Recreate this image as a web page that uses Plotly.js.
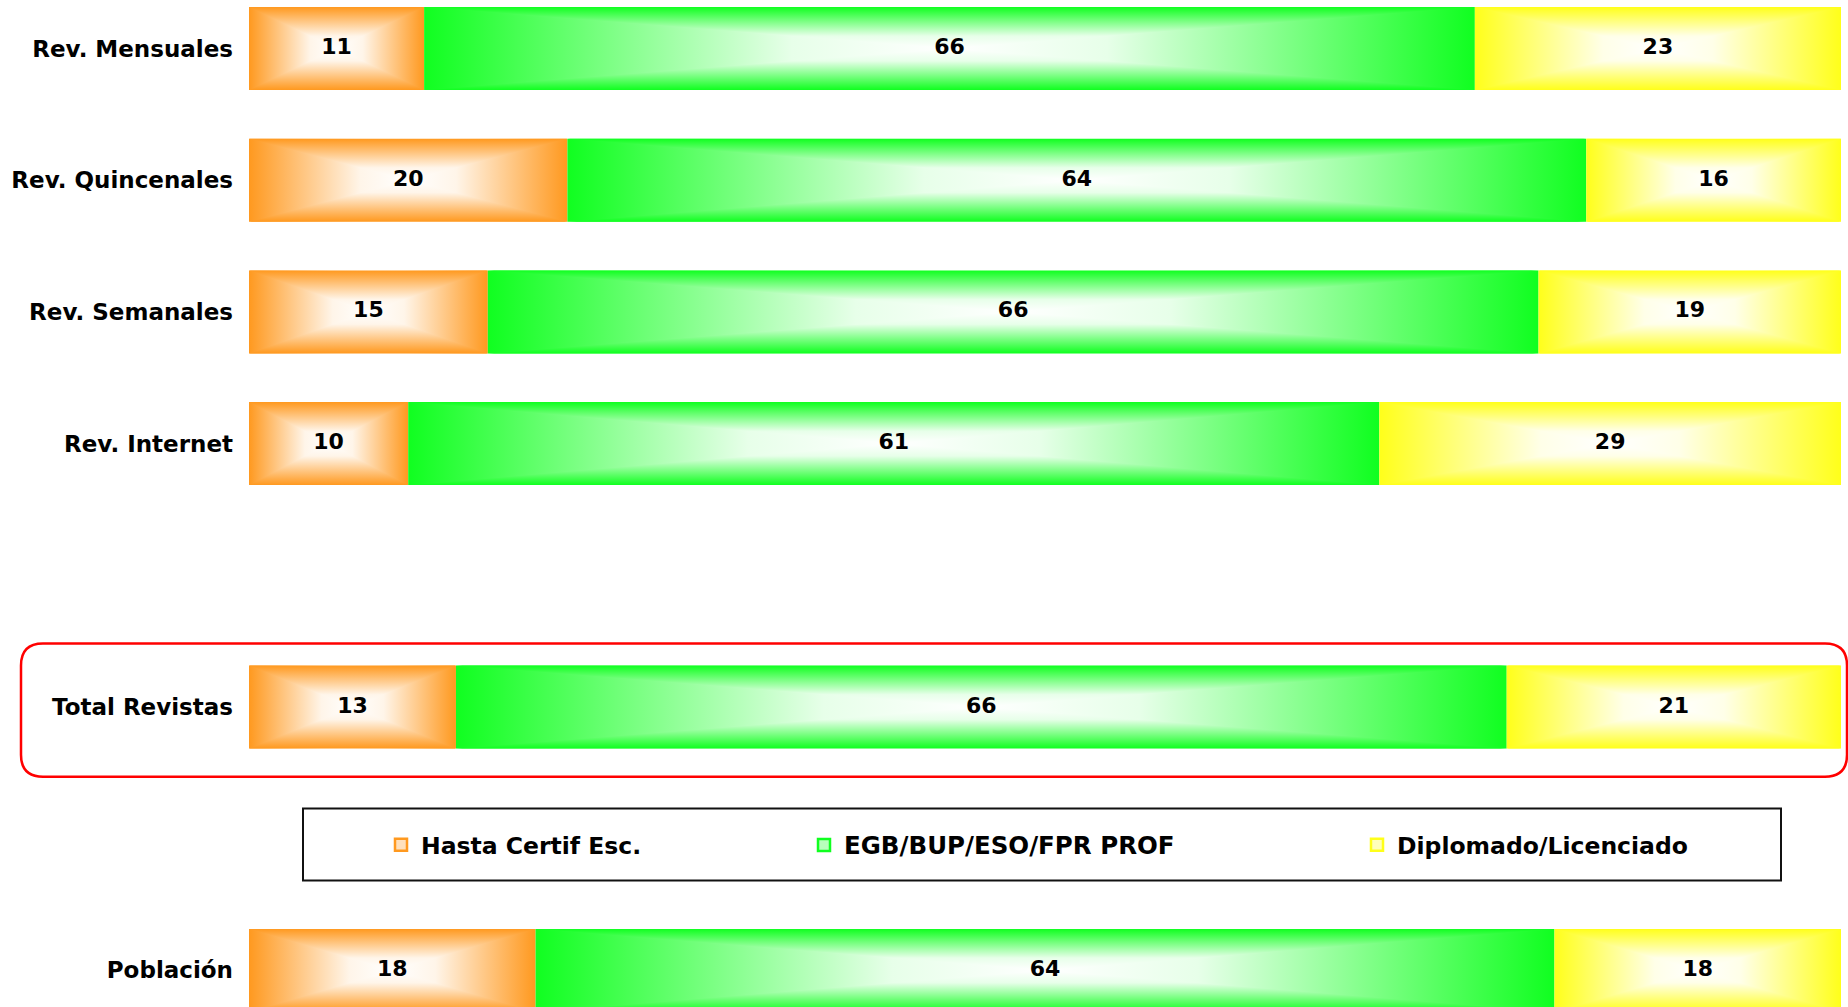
<!DOCTYPE html>
<html>
<head>
<meta charset="utf-8">
<script src="https://cdn.plot.ly/plotly-3.0.1.min.js"></script>
<style>
  html, body { margin: 0; padding: 0; background: #fff; }
  #chart { width: 1848px; height: 1007px; }
</style>
</head>
<body>
<div id="chart"></div>
<script>
// ---- data ----
const categories = ['Rev. Mensuales', 'Rev. Quincenales', 'Rev. Semanales', 'Rev. Internet', 'Total Revistas', 'Población'];
const hastaCertif = [11, 20, 15, 10, 13, 18];
const egbBup = [66, 64, 66, 61, 66, 64];
const diplomado = [23, 16, 19, 29, 21, 18];
const seriesNames = ['Hasta Certif Esc.', 'EGB/BUP/ESO/FPR PROF', 'Diplomado/Licenciado'];

// ---- layout helpers (not data) ----
const rowPos = [0, 1, 2, 3, 5, 7];
const halfH = 0.315;
const baseColors = [[255, 153, 31], [16, 255, 32], [255, 255, 26]];
const FONT = 'DejaVu Sans, Verdana, sans-serif';

function rgb(c) { return 'rgb(' + c.map(v => Math.round(v)).join(',') + ')'; }
function mix(c, f) { return c.map(v => v + (255 - v) * f); }
// profile from edge (0) to center (1)
const profile = [[0, 0], [0.35, 0.45], [0.7, 0.9], [1, 1]];
function edgeToCenter(c) { return profile.map(p => [p[0], rgb(mix(c, p[1]))]); }
function centerToEdge(c) { return profile.slice().reverse().map(p => [1 - p[0], rgb(mix(c, p[1]))]); }
function edgeCenterEdge(c) {
  const a = profile.map(p => [p[0] / 2, rgb(mix(c, p[1]))]);
  const b = profile.slice(0, -1).reverse().map(p => [1 - p[0] / 2, rgb(mix(c, p[1]))]);
  return a.concat(b);
}

const series = [hastaCertif, egbBup, diplomado];
const traces = [];

series.forEach((vals, si) => {
  const c = baseColors[si];
  vals.forEach((v, i) => {
    const x0 = series.slice(0, si).reduce((s, arr) => s + arr[i], 0);
    const x1 = x0 + v;
    const xc = (x0 + x1) / 2;
    const yc = rowPos[i];
    const yt = yc - halfH, yb = yc + halfH;
    // base rectangle, horizontal gradient edge-center-edge
    traces.push({
      type: 'scatter', mode: 'none', fill: 'toself', hoverinfo: 'skip', showlegend: false,
      x: [x0, x1, x1, x0, x0], y: [yt, yt, yb, yb, yt],
      fillgradient: { type: 'horizontal', start: x0, stop: x1, colorscale: edgeCenterEdge(c) }
    });
    // top triangle, vertical gradient edge->center
    traces.push({
      type: 'scatter', mode: 'none', fill: 'toself', hoverinfo: 'skip', showlegend: false,
      x: [x0, x1, xc, x0], y: [yt, yt, yc, yt],
      fillgradient: { type: 'vertical', start: yt, stop: yc, colorscale: edgeToCenter(c) }
    });
    // bottom triangle, vertical gradient center->edge
    traces.push({
      type: 'scatter', mode: 'none', fill: 'toself', hoverinfo: 'skip', showlegend: false,
      x: [x0, xc, x1, x0], y: [yb, yc, yb, yb],
      fillgradient: { type: 'vertical', start: yc, stop: yb, colorscale: centerToEdge(c) }
    });
  });
});

// value labels
series.forEach((vals, si) => {
  traces.push({
    type: 'scatter', mode: 'text', hoverinfo: 'skip', showlegend: false,
    x: vals.map((v, i) => series.slice(0, si).reduce((s, arr) => s + arr[i], 0) + v / 2),
    y: rowPos,
    text: vals.map(String),
    textposition: 'middle center',
    textfont: { family: FONT, size: 22, color: '#000', weight: 'bold' },
    cliponaxis: false
  });
});

// legend entries
const legendIds = ['legend', 'legend2', 'legend3'];
seriesNames.forEach((name, si) => {
  traces.push({
    type: 'scatter', mode: 'markers', name: name, legend: legendIds[si],
    x: [null], y: [null], hoverinfo: 'skip',
    marker: { symbol: 'square', size: 12, color: rgb(mix(baseColors[si], 0.7)),
              line: { color: rgb(baseColors[si]), width: 2.5 } }
  });
});

// geometry for decorations
const W = 1848, H = 1007, ML = 249, MR = 7;
const PW = W - ML - MR;
const px = p => (p - ML) / PW;
const py = p => 1 - p / H;

function roundRect(xa, xb, ya, yb, r) {
  const rx = r / PW, ry = r / H;
  const X0 = px(xa), X1 = px(xb), Y0 = py(ya), Y1 = py(yb);
  return 'M' + (X0 + rx) + ',' + Y0 +
    ' L' + (X1 - rx) + ',' + Y0 + ' Q' + X1 + ',' + Y0 + ' ' + X1 + ',' + (Y0 - ry) +
    ' L' + X1 + ',' + (Y1 + ry) + ' Q' + X1 + ',' + Y1 + ' ' + (X1 - rx) + ',' + Y1 +
    ' L' + (X0 + rx) + ',' + Y1 + ' Q' + X0 + ',' + Y1 + ' ' + X0 + ',' + (Y1 + ry) +
    ' L' + X0 + ',' + (Y0 - ry) + ' Q' + X0 + ',' + Y0 + ' ' + (X0 + rx) + ',' + Y0 + ' Z';
}

function legendCfg(xpix, size) {
  return {
    orientation: 'h', xanchor: 'left', yanchor: 'middle', y: py(845), x: px(xpix),
    bgcolor: 'rgba(0,0,0,0)', borderwidth: 0, itemwidth: 30,
    font: { family: FONT, size: size, color: '#000', weight: 'bold' },
    itemclick: false, itemdoubleclick: false
  };
}

const layout = {
  width: W, height: H,
  margin: { l: ML, r: MR, t: 0, b: 0, pad: 0 },
  paper_bgcolor: '#fff', plot_bgcolor: '#fff',
  showlegend: true,
  xaxis: { range: [0, 100], visible: false, fixedrange: true },
  yaxis: {
    range: [(H - 48.5) / 131.7, -48.5 / 131.7], autorange: false,
    tickvals: rowPos, ticktext: categories,
    showgrid: false, zeroline: false, showline: false, ticks: '',
    ticklabelstandoff: 15,
    tickfont: { family: FONT, size: 23, color: '#000', weight: 'bold' },
    fixedrange: true
  },
  legend: legendCfg(381, 23.5),
  legend2: legendCfg(804, 24.5),
  legend3: legendCfg(1357, 23.5),
  shapes: [
    { type: 'path', xref: 'paper', yref: 'paper', path: roundRect(21, 1847, 643.5, 776.7, 22),
      line: { color: '#ff0000', width: 2.5 } },
    { type: 'rect', xref: 'paper', yref: 'paper', x0: px(303), x1: px(1781), y0: py(808.5), y1: py(880.5),
      line: { color: '#111', width: 2 } }
  ]
};

Plotly.newPlot('chart', traces, layout, { displayModeBar: false, staticPlot: true });
</script>
</body>
</html>
